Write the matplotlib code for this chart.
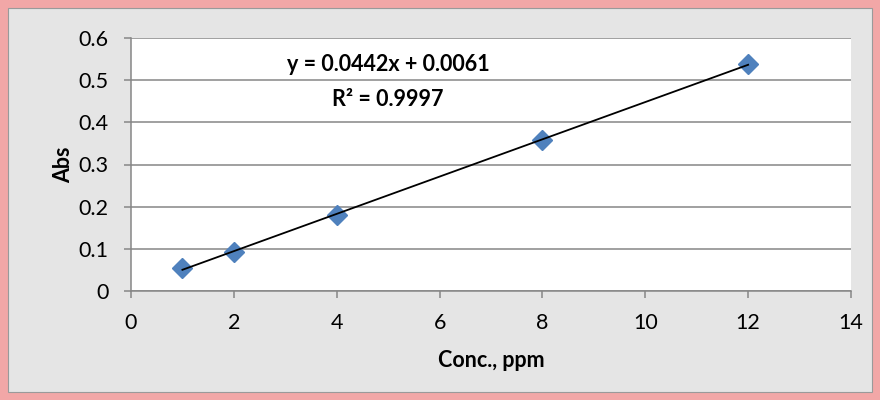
import matplotlib.pyplot as plt
import numpy as np
from matplotlib.patches import Rectangle

# calibration data
conc = [1, 2, 4, 8, 12]
absorb = [0.055, 0.092, 0.180, 0.357, 0.538]
slope = 0.0442
intercept = 0.0061
r2 = 0.9997
xticks = [0, 2, 4, 6, 8, 10, 12, 14]
yticks = [0, 0.1, 0.2, 0.3, 0.4, 0.5, 0.6]

plt.rcParams['font.family'] = ['Lato', 'DejaVu Sans']

fig = plt.figure(figsize=(8.8, 4), dpi=100)
fig.patch.set_facecolor('#F2A7A7')
# grey panel inside the pink frame
fig.add_artist(Rectangle((8 / 880, 8 / 400), 864 / 880, 384 / 400,
                         transform=fig.transFigure, facecolor='#E5E5E5',
                         edgecolor='#9A9A9A', linewidth=0.8, zorder=-10))

ax = fig.add_axes([131 / 880, 109 / 400, 720 / 880, 253 / 400])
ax.set_facecolor('white')

# trend line
xs = np.array([conc[0], conc[-1]])
ax.plot(xs, slope * xs + intercept, color='black', linewidth=1.3, zorder=3)
ax.plot(conc, absorb, linestyle='none', marker='D', markersize=10.5,
        color='#4F81BD', zorder=2)

ax.set_xlim(0, 14)
ax.set_ylim(0, 0.6)
ax.set_xticks(xticks)
ax.set_yticks(yticks)
ax.set_xticklabels([str(t) for t in xticks])
ax.set_yticklabels(['0'] + [f'{t:.1f}' for t in yticks[1:]])
ax.yaxis.grid(True, color='#868686', linewidth=1.1)
ax.set_axisbelow(True)

for s in ['top', 'right']:
    ax.spines[s].set_visible(False)
for s in ['left', 'bottom']:
    ax.spines[s].set_color('#868686')
    ax.spines[s].set_linewidth(1.1)

ax.tick_params(axis='both', colors='#868686', labelcolor='black', labelsize=15.5,
               width=1.1, length=5)
ax.tick_params(axis='y', pad=11)
ax.tick_params(axis='x', pad=11)

ax.set_xlabel('Conc., ppm', fontsize=15.5, fontweight='bold', labelpad=12)
ax.set_ylabel('Abs', fontsize=15.5, fontweight='bold', labelpad=3)

ax.text(5.0, 0.536, f'y = {slope}x + {intercept}', ha='center', va='center',
        fontsize=15.5, fontweight='bold')
ax.text(5.0, 0.453, f'R² = {r2}', ha='center', va='center',
        fontsize=15.5, fontweight='bold')

fig.savefig('out.png', dpi=100, facecolor=fig.get_facecolor())
